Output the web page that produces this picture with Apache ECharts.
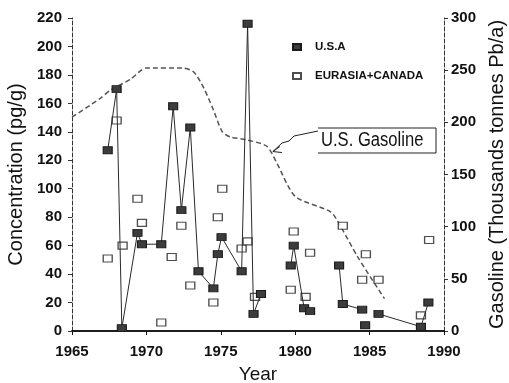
<!DOCTYPE html>
<html>
<head>
<meta charset="utf-8">
<script src="https://cdn.jsdelivr.net/npm/echarts@6/dist/echarts.min.js"></script>
<style>
  html, body { margin: 0; padding: 0; background: #fff; }
  #chart { width: 509px; height: 383px; }
</style>
</head>
<body>
<div id="chart"></div>
<script>
// Lead concentration in snow/ice samples (pg/g) and U.S. gasoline lead use.
const usaYears = [1967.4, 1968.0, 1968.35, 1969.4, 1969.7, 1971.0, 1971.8, 1972.35, 1972.95, 1973.5,
                  1974.5, 1974.8, 1975.05, 1976.4, 1976.8, 1977.2, 1977.7, 1979.7, 1979.9, 1980.6,
                  1981.0, 1982.95, 1983.2, 1984.5, 1984.7, 1985.6, 1988.45, 1988.95];
const usaConc = [127, 170, 2, 69, 61, 61, 158, 85, 143, 42,
                 30, 54, 66, 42, 216, 12, 26, 46, 60, 16,
                 14, 46, 19, 15, 4, 12, 3, 20];
// the connecting line is interrupted after these sample years
const usaBreakAfter = [1977.7, 1981.0, 1984.5, 1984.7];

const eurYears = [1967.4, 1968.0, 1968.4, 1969.4, 1969.7, 1971.0, 1971.7, 1972.35, 1972.95, 1974.5,
                  1974.8, 1975.1, 1976.4, 1976.8, 1977.3, 1979.7, 1979.9, 1980.7, 1981.0, 1983.2,
                  1984.5, 1984.75, 1985.6, 1988.45, 1989.0];
const eurConc = [51, 148, 60, 93, 76, 6, 52, 74, 32, 20,
                 80, 100, 58, 63, 24, 29, 70, 24, 55, 74,
                 36, 54, 36, 11, 64];

// U.S. gasoline lead (thousand tonnes Pb per year)
const gasYears = [1965.0, 1966.9, 1967.6, 1968.9, 1970.0, 1972.5, 1973.2, 1973.85, 1974.5, 1975.1,
                  1975.65, 1976.8, 1978.1, 1978.8, 1980.0, 1982.4, 1983.06, 1984.2, 1986.0];
const gasLead = [205, 223, 231, 241, 252, 252, 248, 233, 212, 191,
                 186, 183, 177, 160, 129, 114, 100, 71, 31];

const yearTicks = { min: 1965, max: 1990, step: 5 };
const concTicks = { min: 0, max: 220, step: 20 };
const gasTicks = { min: 0, max: 300, step: 50 };

const FONT = 'Liberation Sans, Arial, sans-serif';
const INK = '#111';

const usaData = [];
usaYears.forEach((x, i) => {
  usaData.push([x, usaConc[i]]);
  if (usaBreakAfter.includes(x)) usaData.push([x, '-']);
});
const eurData = eurYears.map((x, i) => [x, eurConc[i]]);
const gasData = gasYears.map((x, i) => [x, gasLead[i]]);

const chart = echarts.init(document.getElementById('chart'), null, { renderer: 'canvas' });

const yAxisBase = {
  type: 'value',
  nameLocation: 'middle',
  nameRotate: 90,
  nameTextStyle: { fontSize: 20, color: INK, fontFamily: FONT },
  axisLine: { show: true, lineStyle: { color: '#333', width: 1, type: [4, 2] } },
  axisTick: { show: true, length: 4, lineStyle: { color: '#333' } },
  axisLabel: { fontSize: 15, fontWeight: 'bold', color: INK, fontFamily: FONT },
  splitLine: { show: false }
};

chart.setOption({
  animation: false,
  backgroundColor: '#fff',
  grid: { left: 72, right: 65, top: 18, bottom: 52, containLabel: false, outerBoundsMode: 'none' },
  legend: {
    orient: 'vertical',
    left: 292,
    top: 41,
    padding: 0,
    itemGap: 17,
    itemWidth: 8,
    itemHeight: 6,
    data: [
      { name: 'U.S.A', icon: 'rect' },
      { name: 'EURASIA+CANADA', icon: 'rect' }
    ],
    textStyle: { fontSize: 11.5, fontWeight: 'bold', color: INK, fontFamily: FONT, padding: [0, 0, 0, 9] }
  },
  xAxis: [
    {
      type: 'value',
      min: yearTicks.min, max: yearTicks.max, interval: yearTicks.step,
      name: 'Year', nameLocation: 'middle', nameGap: 34,
      nameTextStyle: { fontSize: 19, color: INK, fontFamily: FONT },
      axisLine: { lineStyle: { color: INK, width: 1.5 } },
      axisTick: { length: 4, lineStyle: { color: INK } },
      axisLabel: {
        fontSize: 15, fontWeight: 'bold', color: INK, fontFamily: FONT, margin: 13,
        formatter: v => String(v)
      },
      splitLine: { show: false }
    },
    {
      type: 'value', position: 'top',
      min: yearTicks.min, max: yearTicks.max, interval: yearTicks.step,
      axisLine: { show: true, lineStyle: { color: INK, width: 1.5 } },
      axisTick: { show: false }, axisLabel: { show: false }, splitLine: { show: false }
    }
  ],
  yAxis: [
    Object.assign({}, yAxisBase, {
      position: 'left',
      min: concTicks.min, max: concTicks.max, interval: concTicks.step,
      name: 'Concentration (pg/g)', nameGap: 44,
      axisLabel: Object.assign({}, yAxisBase.axisLabel, { margin: 10 })
    }),
    Object.assign({}, yAxisBase, {
      position: 'right',
      min: gasTicks.min, max: gasTicks.max, interval: gasTicks.step,
      name: 'Gasoline (Thousands tonnes Pb/a)', nameGap: 43,
      axisLabel: Object.assign({}, yAxisBase.axisLabel, { margin: 7 })
    })
  ],
  series: [
    {
      name: 'U.S. Gasoline',
      type: 'line',
      xAxisIndex: 0, yAxisIndex: 1,
      data: gasData,
      showSymbol: false,
      smooth: 0.25,
      lineStyle: { color: '#555', width: 1.5, type: [5, 3] },
      z: 1
    },
    {
      name: 'EURASIA+CANADA',
      type: 'scatter',
      xAxisIndex: 0, yAxisIndex: 0,
      data: eurData,
      symbol: 'rect',
      symbolSize: [9, 7],
      itemStyle: { color: '#fff', borderColor: '#222', borderWidth: 1.2 },
      z: 2
    },
    {
      name: 'U.S.A',
      type: 'line',
      xAxisIndex: 0, yAxisIndex: 0,
      data: usaData,
      connectNulls: false,
      symbol: 'rect',
      symbolSize: [9, 7],
      showAllSymbol: true,
      lineStyle: { color: '#2a2a2a', width: 1 },
      itemStyle: { color: '#3c3c3c', borderColor: '#1a1a1a', borderWidth: 1 },
      z: 3
    }
  ]
});

// Callout for the gasoline curve: boxed label with a pointer to the line.
const tip = chart.convertToPixel({ xAxisIndex: 0, yAxisIndex: 1 }, [1978.5, 172]);
chart.setOption({
  graphic: [
    {
      type: 'polyline',
      shape: { points: [[318, 128], [436, 128], [436, 153], [318, 153]] },
      style: { stroke: '#222', lineWidth: 1, fill: null }
    },
    {
      type: 'text',
      x: 321, y: 140,
      scaleX: 0.83,
      style: { text: 'U.S. Gasoline', fontSize: 20, fontFamily: FONT, fill: INK, verticalAlign: 'middle', align: 'left' }
    },
    {
      type: 'polyline',
      shape: { points: [[318, 131], [294, 136], [289, 141], [282, 143], [tip[0], tip[1]]] },
      style: { stroke: '#222', lineWidth: 1, fill: null }
    },
    {
      type: 'polyline',
      shape: { points: [[tip[0] + 7, tip[1] - 5], [tip[0], tip[1]], [tip[0] + 9, tip[1] + 1]] },
      style: { stroke: '#222', lineWidth: 1, fill: null }
    }
  ]
});
</script>
</body>
</html>
